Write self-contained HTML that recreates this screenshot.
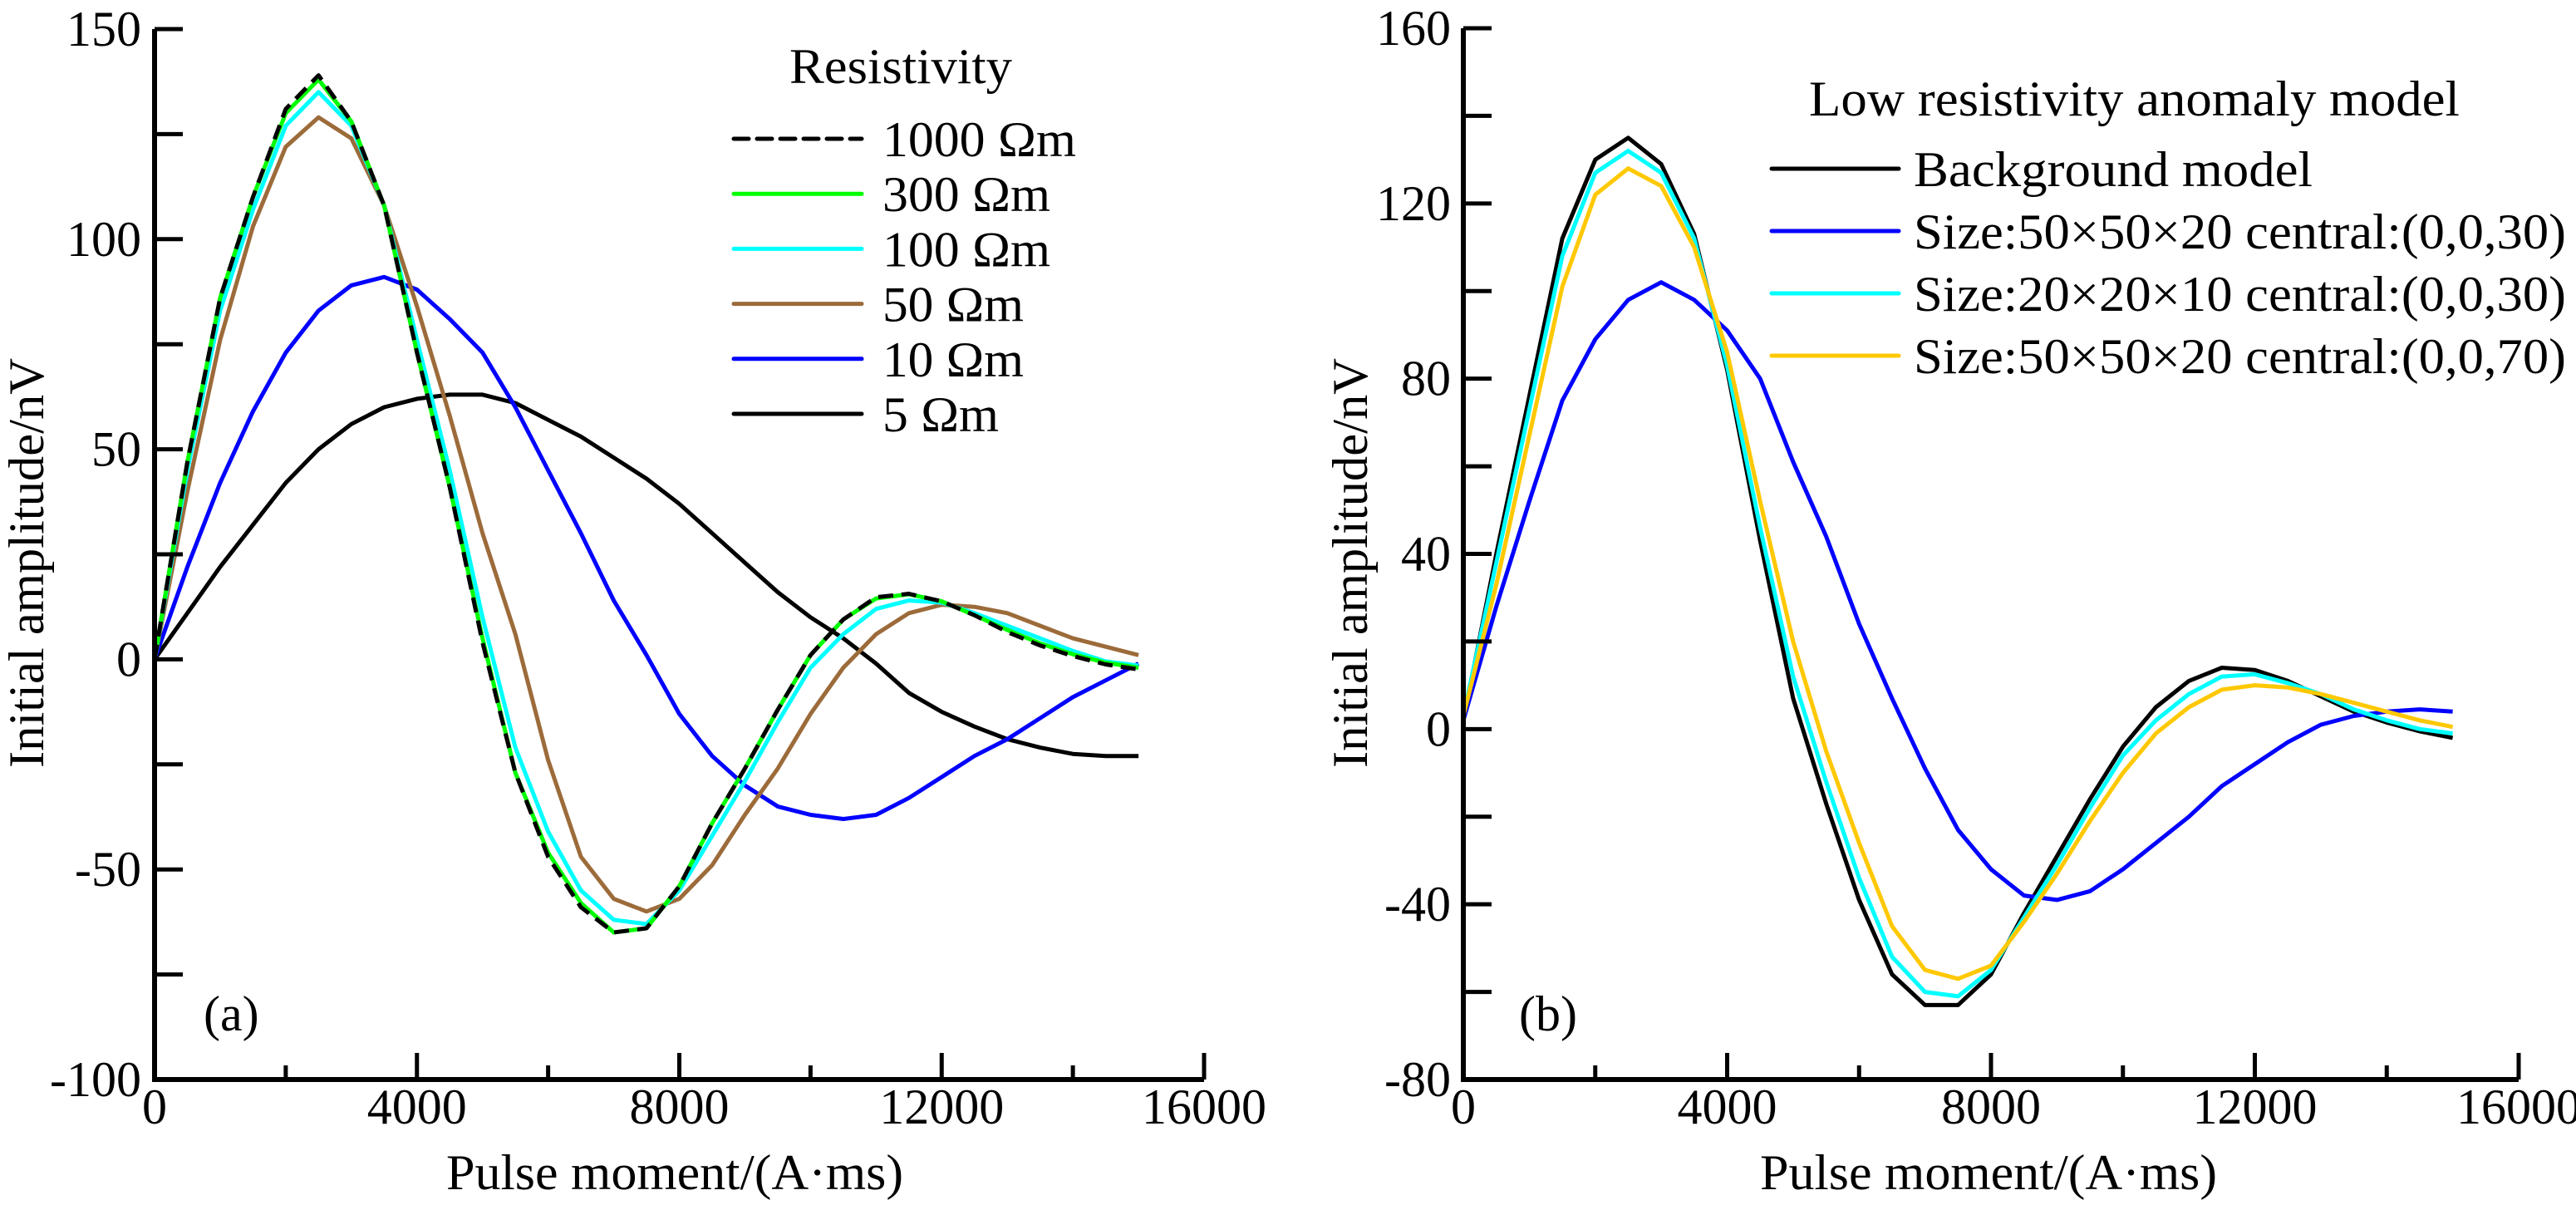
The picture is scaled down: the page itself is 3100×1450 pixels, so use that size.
<!DOCTYPE html>
<html><head><meta charset="utf-8"><style>
html,body{margin:0;padding:0;background:#fff;}
svg{display:block;}
text{font-family:"Liberation Serif","Times New Roman","Noto Serif CJK SC","DejaVu Serif",serif;}
</style></head><body>
<svg id="fig" width="3100" height="1450" viewBox="0 0 3100 1450" xmlns="http://www.w3.org/2000/svg">
<g id="pa"></g>
<g id="pb"></g>
</svg>
<script>
const xValues = [0,500,1000,1500,2000,2500,3000,3500,4000,4500,5000,5500,6000,6500,7000,7500,8000,8500,9000,9500,10000,10500,11000,11500,12000,12500,13000,13500,14000,14500,15000];
// Panel (a)
const aXTicks = [0,4000,8000,12000,16000];
const aYTicks = [-100,-50,0,50,100,150];
const aR1000 = [0,47,86,110,131,139,128,108,73,41,4,-27,-47,-59,-65,-64,-54,-39,-26,-12,1,9.5,14.8,15.6,13.8,10.5,6.5,3.3,0.8,-1.2,-2.4];
const aR300 = [0,47,86,110,130,138,128,108,73,41,5,-27,-46,-58,-65,-64,-54,-39,-26,-12,1,9.5,14.5,15.5,13.8,10.5,7,3.8,1.2,-0.8,-2];
const aR100 = [0,45,83,107,127,135,127,108,76,45,10,-21,-41,-55,-62,-63,-55,-42,-29,-15,-2,6,12,14,13.5,11,8,5,2,-0.5,-1.5];
const aR50 = [0,40,76,103,122,129,124,108,84,58,30,6,-24,-47,-57,-60,-57,-49,-37,-26,-13,-2,6,11,13,12.5,11,8,5,3,1];
const aR10 = [0,22,42,59,73,83,89,91,88,81,73,60,45,30,14,1,-13,-23,-30,-35,-37,-38,-37,-33,-28,-23,-19,-14,-9,-5,-1];
const aR5 = [0,11,22,32,42,50,56,60,62,63,63,61,57,53,48,43,37,30,23,16,10,5,-1,-8,-12.5,-16,-19,-21,-22.5,-23,-23];
const aLabels = ["1000 Ωm","300 Ωm","100 Ωm","50 Ωm","10 Ωm","5 Ωm"];
// Panel (b)
const bXTicks = [0,4000,8000,12000,16000];
const bYTicks = [-80,-40,0,40,80,120,160];
const bBackground = [2,40,76,112,130,135,129,113,82,43,7,-17,-39,-56,-63,-63,-56,-42,-29,-16,-4,5,11,14,13.5,11,7.5,4,1.5,-0.5,-2];
const bSize50c30 = [2,28,52,75,89,98,102,98,91,80,61,44,24,7,-9,-23,-32,-38,-39,-37,-32,-26,-20,-13,-8,-3,1,3,4,4.5,4];
const bSize20c30 = [3,38,73,108,127,132,127,112,83,46,12,-12,-34,-52,-60,-61,-55,-43,-31,-18,-6,2,8,12,12.5,10.5,8,4.5,2,0,-1];
const bSize50c70 = [3,33,67,101,122,128,124,110,86,52,20,-5,-26,-45,-55,-57,-54,-44,-33,-21,-10,-1,5,9,10,9.5,8,6,4,2,0.5];
const bLabels = ["Background model","Size:50×50×20 central:(0,0,30)","Size:20×20×10 central:(0,0,30)","Size:50×50×20 central:(0,0,70)"];

const NS="http://www.w3.org/2000/svg";
function mk(tag,parent,attrs,txt){const e=document.createElementNS(NS,tag);for(const k in attrs)e.setAttribute(k,attrs[k]);if(txt!==undefined){e.textContent=txt;}parent.appendChild(e);return e;}
function fit(t,len){t.setAttribute("textLength",len);t.setAttribute("lengthAdjust","spacingAndGlyphs");}

function panel(g,cfg){
  const sx=v=>cfg.x0+(v-cfg.xmin)/(cfg.xmax-cfg.xmin)*(cfg.x1-cfg.x0);
  const sy=v=>cfg.y0-(v-cfg.ymin)/(cfg.ymax-cfg.ymin)*(cfg.y0-cfg.y1);
  const order=cfg.drawOrder||cfg.series.map((s,i)=>i);
  order.forEach(i=>{
    const s=cfg.series[i];
    const pts=xValues.map((x,j)=>sx(x).toFixed(1)+","+sy(s.data[j]).toFixed(1)).join(" ");
    const p=mk("polyline",g,{points:pts,fill:"none",stroke:s.color,"stroke-width":5,"stroke-linejoin":"round"});
    if(s.dash)p.setAttribute("stroke-dasharray",s.dash);
    
    
  });
  const ax=mk("path",g,{d:`M${cfg.x0},${cfg.y1} L${cfg.x0},${cfg.y0} L${cfg.x1},${cfg.y0}`,fill:"none",stroke:"#000","stroke-width":6});
  
  
  const ys=cfg.yTicks;const step=ys[1]-ys[0];
  for(let v=ys[0];v<=ys[ys.length-1]+1e-6;v+=step/2){
    const t=mk("line",g,{x1:cfg.x0,x2:cfg.x0+34,y1:sy(v),y2:sy(v),stroke:"#000","stroke-width":5});
    
    
  }
  ys.forEach(v=>{
    const t=mk("text",g,{x:cfg.ylabX,y:sy(v)+20,"text-anchor":"end","font-size":60},String(v));
    
    
  });
  const xs=cfg.xTicks;const xstep=xs[1]-xs[0];
  for(let v=xs[0];v<=xs[xs.length-1]+1e-6;v+=xstep/2){
    const major=Math.abs((v-xs[0])%xstep)<1e-6;
    const t=mk("line",g,{x1:sx(v),x2:sx(v),y1:cfg.y0,y2:cfg.y0-(major?32:17),stroke:"#000","stroke-width":5});
    
    
  }
  xs.forEach(v=>{
    const t=mk("text",g,{x:sx(v),y:1352,"text-anchor":"middle","font-size":60},String(v));
    
    
  });
  const xt=mk("text",g,{x:cfg.xTitleX-275,y:1431,"font-size":60},"Pulse moment/(A·ms)");
  fit(xt,550);
  
  
  const yt=mk("text",g,{x:-246,y:0,"font-size":60,transform:`translate(${cfg.yTitleX},678) rotate(-90)`},"Initial amplitude/nV");
  fit(yt,493);
  
  
  const pl=mk("text",g,{x:cfg.tagX,y:1240,"font-size":60},cfg.tag);
  
  
  const lt=mk("text",g,{x:cfg.legTitleX,y:cfg.legTitleY,"font-size":60},cfg.legTitle);
  fit(lt,cfg.legTitleLen);
  
  
  cfg.series.forEach((s,i)=>{
    const yy=cfg.legY0+i*cfg.legDy;
    const l=mk("line",g,{x1:cfg.legX1,x2:cfg.legX2,y1:yy,y2:yy,stroke:s.color,"stroke-width":5,"stroke-linecap":"round"});
    if(s.dash)l.setAttribute("stroke-dasharray",s.dash);
    
    
    const t=mk("text",g,{x:cfg.legTX,y:yy+21,"font-size":60},cfg.labels[i]);
    if(cfg.legLens)fit(t,cfg.legLens[i]);
    
    
  });
}

panel(document.getElementById("pa"),{
  x0:186,x1:1449,y0:1299,y1:35,xmin:0,xmax:16000,ymin:-100,ymax:150,
  xTicks:aXTicks,yTicks:aYTicks,ylabX:170,xTitleX:812,yTitleX:52,tag:"(a)",tagX:245,
  legTitle:"Resistivity",legTitleX:950,legTitleY:100,legTitleLen:268,
  legX1:883,legX2:1037,legTX:1062,legY0:167,legDy:66.2,labels:aLabels,
  legLens:[233,202,202,170,170,140],
  drawOrder:[5,4,3,2,1,0],
  series:[
    {data:aR1000,color:"#000",dash:"18,10",name:"series-1000-ohm-m"},
    {data:aR300,color:"#00ff00",name:"series-300-ohm-m"},
    {data:aR100,color:"#00ffff",name:"series-100-ohm-m"},
    {data:aR50,color:"#9c6b3a",name:"series-50-ohm-m"},
    {data:aR10,color:"#0000ff",name:"series-10-ohm-m"},
    {data:aR5,color:"#000",name:"series-5-ohm-m"}
  ]
});
panel(document.getElementById("pb"),{
  x0:1761,x1:3031,y0:1299,y1:34,xmin:0,xmax:16000,ymin:-80,ymax:160,
  xTicks:bXTicks,yTicks:bYTicks,ylabX:1746,xTitleX:2393,yTitleX:1645,tag:"(b)",tagX:1828,
  legTitle:"Low resistivity anomaly model",legTitleX:2177,legTitleY:139,legTitleLen:783,
  legX1:2132,legX2:2285,legTX:2303,legY0:203,legDy:75,labels:bLabels,
  legLens:[480,785,785,785],
  series:[
    {data:bBackground,color:"#000",name:"series-background-model"},
    {data:bSize50c30,color:"#0000ff",name:"series-50x50x20-c30"},
    {data:bSize20c30,color:"#00ffff",name:"series-20x20x10-c30"},
    {data:bSize50c70,color:"#ffc800",name:"series-50x50x20-c70"}
  ]
});
</script>
</body></html>
